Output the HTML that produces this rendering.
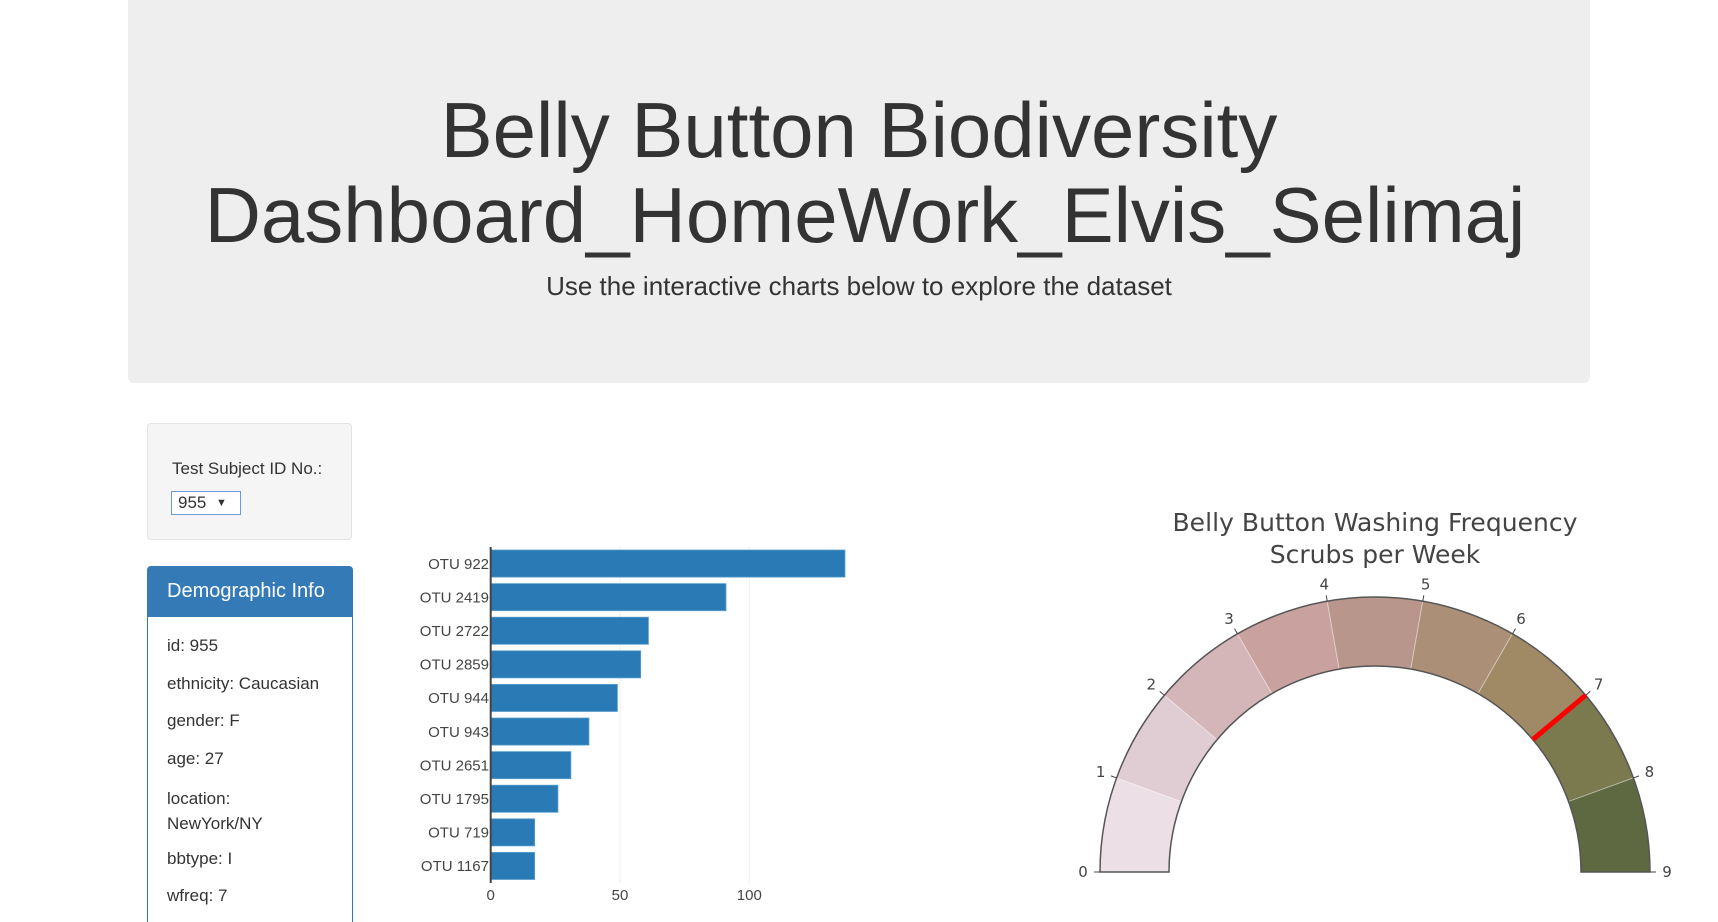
<!DOCTYPE html>
<html style="height:922px;overflow:hidden"><head><meta charset="utf-8">
<style>
body{margin:0;width:1718px;height:922px;overflow:hidden;background:#fff;font-family:"Liberation Sans",Arial,sans-serif;color:#333;position:relative}
.abs{position:absolute}
#jumbo{left:128px;top:-6px;width:1462px;height:389px;background:#eeeeee;border-radius:6px}
.h1{left:0;width:1718px;text-align:center;font-size:78px;line-height:85px;color:#333}
#sub{left:0;width:1718px;text-align:center;font-size:26px;top:271px;color:#333}
#sel{left:147px;top:423px;width:205px;height:117px;background:#f5f5f5;border:1px solid #e3e3e3;border-radius:4px;box-sizing:border-box}
#demo{left:147px;top:566px;width:206px;height:356px;border:1px solid #337ab7;border-bottom:none;border-radius:4px 4px 0 0;box-sizing:border-box}
#demohead{left:0;top:0;width:204px;height:50px;background:#337ab7;color:#fff;font-size:20px;line-height:48px;padding-left:19px;box-sizing:border-box}
.row{font-size:17px;left:19px;color:#333}
</style></head><body>
<div id="jumbo" class="abs"></div>
<div class="abs h1" style="top:88px">Belly Button Biodiversity</div>
<div class="abs h1" style="top:173px;left:6px">Dashboard_HomeWork_Elvis_Selimaj</div>
<div id="sub" class="abs">Use the interactive charts below to explore the dataset</div>

<div id="sel" class="abs">
 <div class="abs" style="left:24px;top:35px;font-size:17px">Test Subject ID No.:</div>
 <div class="abs" style="left:23px;top:67px;width:62px;height:22px;border:1px solid #6a9ae0;background:#fff;font-size:17px;line-height:22px;padding-left:6px;box-sizing:content-box">955<span style="position:absolute;left:44px;top:0;font-size:11px">▼</span></div>
</div>

<div id="demo" class="abs">
 <div id="demohead" class="abs">Demographic Info</div>
 <div class="abs row" style="top:69px">id: 955</div>
 <div class="abs row" style="top:107px">ethnicity: Caucasian</div>
 <div class="abs row" style="top:144px">gender: F</div>
 <div class="abs row" style="top:182px">age: 27</div>
 <div class="abs row" style="top:219px;line-height:25px">location:<br>NewYork/NY</div>
 <div class="abs row" style="top:282px">bbtype: I</div>
 <div class="abs row" style="top:319px">wfreq: 7</div>
</div>

<svg class="abs" style="left:0;top:0" width="1718" height="922" id="svg"></svg>

<script>
const otuLabels=["OTU 922","OTU 2419","OTU 2722","OTU 2859","OTU 944","OTU 943","OTU 2651","OTU 1795","OTU 719","OTU 1167"];
const otuValues=[137,91,61,58,49,38,31,26,17,17];
const xTicks=[0,50,100];
const gaugeTicks=[0,1,2,3,4,5,6,7,8,9];
const gaugeColors=["#ecdfe5","#e0ccd3","#d4b6b9","#c9a29f","#b9968c","#ac8f77","#a08a65","#7a7a4e","#5e6841"];
const wfreq=7;

const NS="http://www.w3.org/2000/svg";
const svg=document.getElementById('svg');
function mk(t,a,txt){const e=document.createElementNS(NS,t);for(const k in a)e.setAttribute(k,a[k]);if(txt!==undefined)e.textContent=txt;svg.appendChild(e);return e;}

// bar chart
const x0=490.7,pxPer=129.3/50,yTop=547,band=33.6;
const xs=v=>x0+v*pxPer;
xTicks.forEach(t=>{
 if(t>0){const g=mk('line',{x1:xs(t),x2:xs(t),y1:547,y2:883,stroke:'#eee','stroke-width':1});
 
 }
 const l=mk('text',{x:xs(t),y:900,'text-anchor':'middle','font-size':15,fill:'#444','font-family':'"Liberation Sans",sans-serif'},String(t));
 
 
});
otuLabels.forEach((lab,i)=>{
 const y=yTop+i*band;
 const r=mk('rect',{x:x0,y:y+3,width:xs(otuValues[i])-x0,height:band-6.5,fill:'#2a7ab5',stroke:'#5a9fd3','stroke-width':0.8});
 
 
 const t=mk('text',{x:489,y:y+band/2+5,'text-anchor':'end','font-size':15,fill:'#444','font-family':'"Liberation Sans",sans-serif'},lab);
 
 
});
const ax=mk('line',{x1:x0,x2:x0,y1:547,y2:883,stroke:'#444','stroke-width':2});



// gauge
const cx=1375,cy=872,R=275,r=206,vmax=9;
const ang=v=>Math.PI*(1-v/vmax);
const P=(rad,v)=>[cx+rad*Math.cos(ang(v)),cy-rad*Math.sin(ang(v))];
gaugeColors.forEach((c,i)=>{
 const a=P(R,i),b=P(R,i+1),d=P(r,i+1),e=P(r,i);
 const p=mk('path',{d:`M${a} A${R},${R} 0 0 1 ${b} L${d} A${r},${r} 0 0 0 ${e} Z`,fill:c,stroke:'rgba(255,255,255,0.35)','stroke-width':1});
 
 
});
const o=mk('path',{d:`M${P(R,0)} A${R},${R} 0 0 1 ${P(R,vmax)} L${P(r,vmax)} A${r},${r} 0 0 0 ${P(r,0)} Z`,fill:'none',stroke:'#555','stroke-width':1.5});


gaugeTicks.forEach(v=>{
 const a=P(R,v),b=P(R+6,v),c=P(R+17,v);
 const tl=mk('line',{x1:a[0],y1:a[1],x2:b[0],y2:b[1],stroke:'#444','stroke-width':1});
 
 
 const t=mk('text',{x:c[0],y:c[1]+5,'text-anchor':'middle','font-size':15,fill:'#444','font-family':'"DejaVu Sans",sans-serif'},String(v));
 
 
});
const n1=P(r,wfreq),n2=P(R,wfreq);
const nd=mk('line',{x1:n1[0],y1:n1[1],x2:n2[0],y2:n2[1],stroke:'#ff0000','stroke-width':5});


const g1=mk('text',{x:cx,y:531,'text-anchor':'middle','font-size':25,fill:'#444','font-family':'"DejaVu Sans",sans-serif','textLength':405},'Belly Button Washing Frequency');


const g2=mk('text',{x:cx,y:563,'text-anchor':'middle','font-size':25,fill:'#444','font-family':'"DejaVu Sans",sans-serif'},'Scrubs per Week');


</script>
</body></html>
